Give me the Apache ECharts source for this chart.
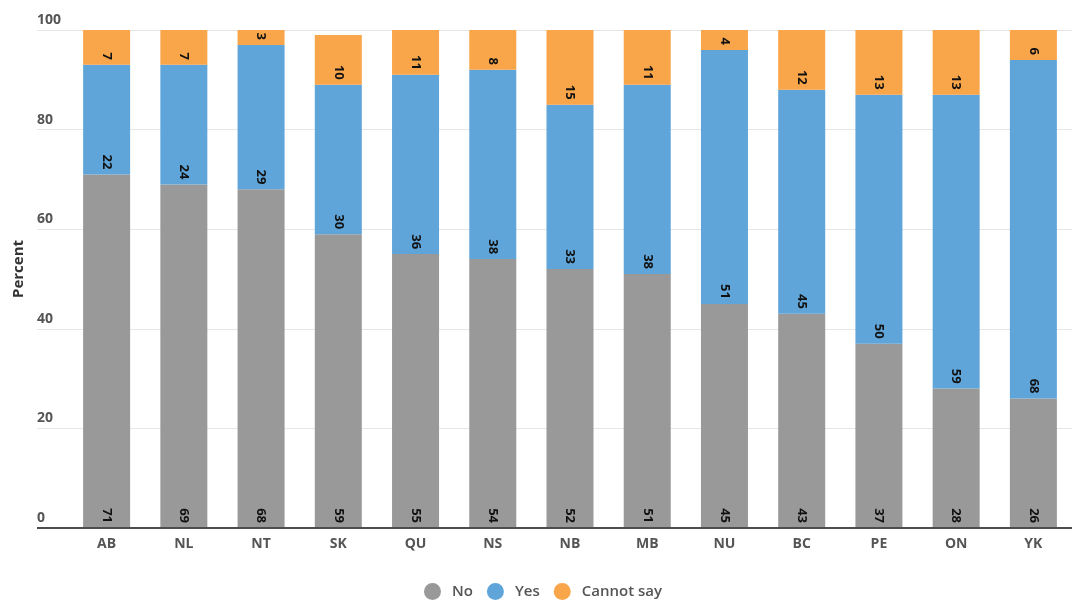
<!DOCTYPE html>
<html>
<head>
<meta charset="utf-8">
<script src="https://cdn.jsdelivr.net/npm/echarts@6/dist/echarts.min.js"></script>
<style>
  html, body { margin: 0; padding: 0; background: #fff; }
  #chart { width: 1072px; height: 601px; }
</style>
</head>
<body>
<div id="chart"></div>
<script>
// Provinces and territories, and the share of answers in each group (percent)
const provinces = ['AB', 'NL', 'NT', 'SK', 'QU', 'NS', 'NB', 'MB', 'NU', 'BC', 'PE', 'ON', 'YK'];
const noValues = [71, 69, 68, 59, 55, 54, 52, 51, 45, 43, 37, 28, 26];
const yesValues = [22, 24, 29, 30, 36, 38, 33, 38, 51, 45, 50, 59, 68];
const cannotSayValues = [7, 7, 3, 10, 11, 8, 15, 11, 4, 12, 13, 13, 6];
const seriesNames = ['No', 'Yes', 'Cannot say'];
const yTicks = { min: 0, max: 100, interval: 20 };

const colors = ['#999999', '#5fa5d9', '#f9a54a'];
const FONT = '"Open Sans", "Noto Sans", sans-serif';

const chart = echarts.init(document.getElementById('chart'), null, { renderer: 'canvas' });

// Bar segment label: rotated, sitting just above the bottom of its segment
const segLabel = {
  show: true,
  position: 'insideBottom',
  distance: 5,
  rotate: -90,
  align: 'right',
  verticalAlign: 'middle',
  color: '#111',
  fontFamily: FONT,
  fontWeight: 'bold',
  fontSize: 13
};

function stackSeries(name, values, idx) {
  return {
    name: name,
    type: 'bar',
    stack: 'total',
    xAxisIndex: 1,
    yAxisIndex: 1,
    barWidth: 47,
    data: values,
    itemStyle: { color: colors[idx] },
    label: segLabel,
    emphasis: { disabled: true },
    clip: true
  };
}

chart.setOption({
  animation: false,
  color: colors,
  textStyle: { fontFamily: FONT },
  legend: {
    data: seriesNames,
    left: 424,
    top: 583,
    padding: 0,
    icon: 'circle',
    itemWidth: 17,
    itemHeight: 17,
    itemGap: 14,
    textStyle: {
      color: '#555',
      fontSize: 15,
      fontWeight: 600,
      fontFamily: FONT,
      padding: [0, 0, 0, 6]
    }
  },
  grid: [
    // frame: gridlines, value ticks and baseline
    { left: 37, right: 0, top: 30, bottom: 73, containLabel: false },
    // bars
    { left: 68, width: 1011, top: 30, bottom: 73, containLabel: false }
  ],
  xAxis: [
    {
      gridIndex: 0,
      type: 'value',
      min: 0,
      max: 1,
      axisLine: { show: false },
      axisTick: { show: false },
      axisLabel: { show: false },
      splitLine: { show: false }
    },
    {
      gridIndex: 1,
      type: 'category',
      data: provinces,
      axisLine: { show: false },
      axisTick: { show: false },
      axisLabel: {
        margin: 9,
        color: '#555',
        fontSize: 14,
        fontWeight: 'bold',
        fontFamily: FONT
      }
    }
  ],
  yAxis: [
    {
      gridIndex: 0,
      type: 'value',
      min: yTicks.min,
      max: yTicks.max,
      interval: yTicks.interval,
      name: 'Percent',
      nameLocation: 'middle',
      nameGap: 10,
      nameRotate: 90,
      nameTextStyle: {
        color: '#333',
        fontSize: 15,
        fontWeight: 'bold',
        fontFamily: FONT,
        padding: [0, 0, 0, 20]
      },
      axisLine: { show: false },
      axisTick: { show: false },
      axisLabel: {
        inside: true,
        margin: 0,
        align: 'left',
        verticalAlign: 'bottom',
        padding: [0, 0, 3, 0],
        color: '#555',
        fontSize: 14,
        fontWeight: 'bold',
        fontFamily: FONT
      },
      splitLine: { lineStyle: { color: '#e6e6e6', width: 1 } }
    },
    {
      gridIndex: 1,
      type: 'value',
      min: yTicks.min,
      max: yTicks.max,
      interval: yTicks.interval,
      show: false,
      splitLine: { show: false }
    }
  ],
  series: [
    // baseline under the bars, across the full frame width
    {
      type: 'line',
      xAxisIndex: 0,
      yAxisIndex: 0,
      data: [],
      silent: true,
      markLine: {
        silent: true,
        symbol: 'none',
        label: { show: false },
        lineStyle: { color: '#4d4d4d', width: 2, type: 'solid' },
        data: [[{ coord: [0, 0] }, { coord: [1, 0] }]]
      }
    },
    stackSeries(seriesNames[0], noValues, 0),
    stackSeries(seriesNames[1], yesValues, 1),
    stackSeries(seriesNames[2], cannotSayValues, 2)
  ]
});
</script>
</body>
</html>
